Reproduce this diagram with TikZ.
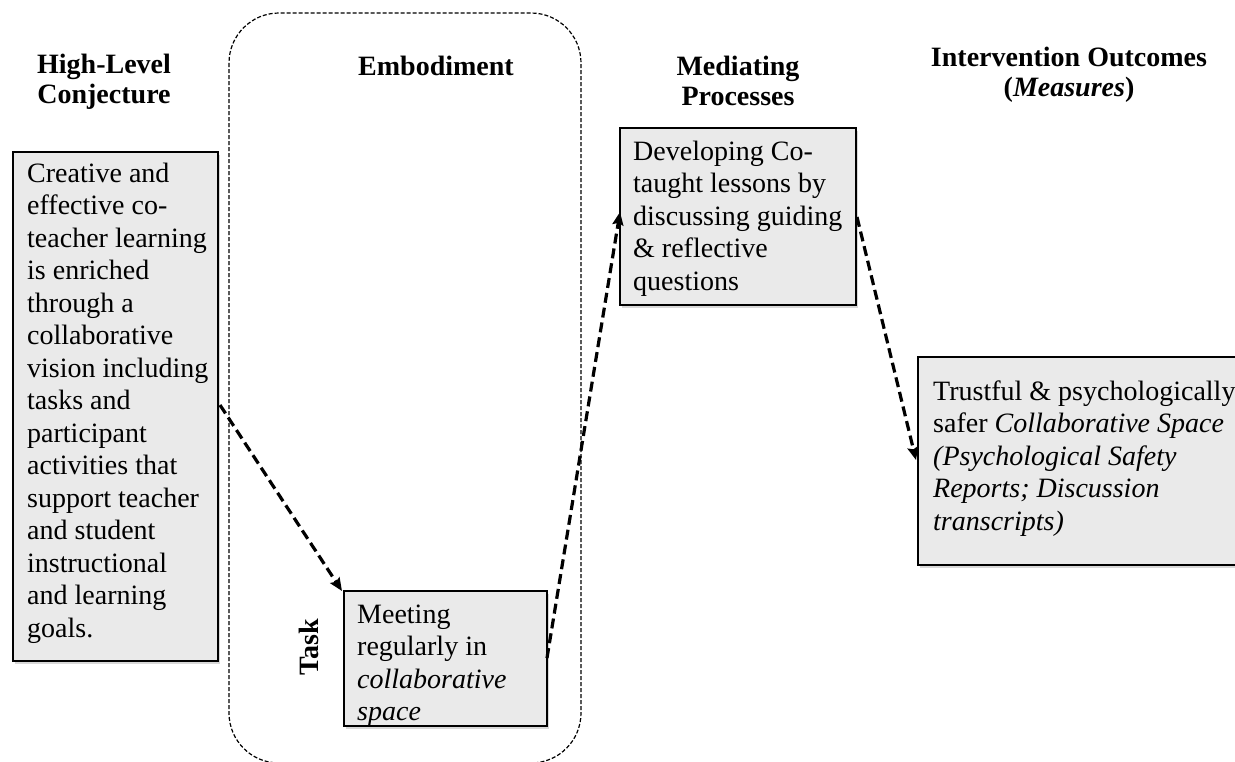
\documentclass[tikz,border=0pt]{standalone}
\usepackage{fontspec}
\setmainfont{Liberation Serif}
\usetikzlibrary{arrows.meta,shadows}
\definecolor{boxfill}{RGB}{234,234,234}
\begin{document}
\begin{tikzpicture}[x=1pt,y=-1pt,
  box/.style={draw=black,line width=1.3pt,fill=boxfill,drop shadow={shadow xshift=2pt,shadow yshift=-3pt,opacity=0.3}},
  bodytext/.style={anchor=north west,align=left,inner sep=0pt,font=\fontsize{28}{32.5}\selectfont},
  head/.style={anchor=base,inner sep=0pt,font=\fontsize{28}{30}\selectfont\bfseries},
  conn/.style={line width=3.2pt,dash pattern=on 10pt off 5pt,-{Stealth[length=13pt,width=11pt,inset=2pt]}},
  frame/.style={line width=1.2pt,dash pattern=on 4pt off 2pt,rounded corners=50pt}]
\useasboundingbox (0,0) rectangle (1235,761);
\fill[white] (0,0) rectangle (1235,761);

% embodiment frame
\draw[frame] (229,13) rectangle (581,763);

% boxes
\draw[box] (13,152) rectangle (218,661);
\draw[box] (344,591) rectangle (547,726);
\draw[box] (620,128) rectangle (856,305);
\draw[box] (918,357) rectangle (1260,565);

\node[bodytext] (hltext) at (27,160) {\rule{0pt}{22pt}Creative and\\effective co-\\teacher learning\\is enriched\\through a\\collaborative\\vision including\\tasks and\\participant\\activities that\\support teacher\\and student\\instructional\\and learning\\goals.};
\node[bodytext] (tasktext) at (357,601) {\rule{0pt}{22pt}Meeting\\regularly in\\\textit{collaborative}\\\textit{space}};
\node[bodytext] (medtext) at (633,138) {\rule{0pt}{22pt}Developing Co-\\taught lessons by\\discussing guiding\\\& reflective\\questions};
\node[bodytext] (outtext) at (933,378) {\rule{0pt}{22pt}Trustful \& psychologically\\safer \textit{Collaborative Space}\\\textit{(Psychological Safety}\\\textit{Reports; Discussion}\\\textit{transcripts)}};

% headings
\node[head] (h1a) at (104,73) {High-Level};
\node[head] (h1b) at (104,103) {Conjecture};
\node[head] (h2) at (436,75) {Embodiment};
\node[head] (h3a) at (738,75) {Mediating};
\node[head] (h3b) at (738,105) {Processes};
\node[head] (h4a) at (1069,66) {Intervention Outcomes};
\node[head] (h4b) at (1069,96) {(\textit{Measures})};
\node[head,rotate=90,anchor=center] (task) at (309,647) {Task};

% connectors
\coordinate (a1) at (220,405);
\coordinate (a2) at (342,591);
\coordinate (b1) at (547,658);
\coordinate (b2) at (620,212);
\coordinate (c1) at (857,217);
\coordinate (c2) at (916,460);
\draw[conn] (a1) -- (a2);
\draw[conn] (b1) -- (b2);
\draw[conn] (c1) -- (c2);
\end{tikzpicture}
\end{document}
